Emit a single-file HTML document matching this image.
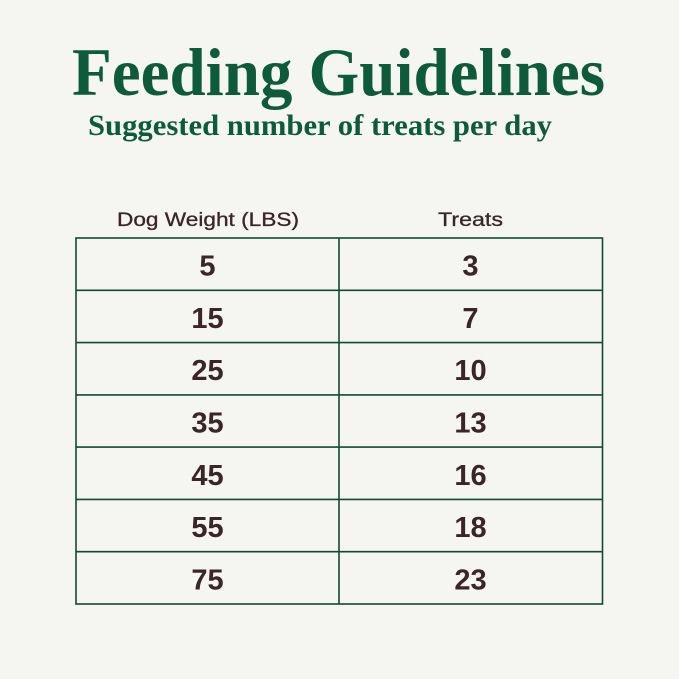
<!DOCTYPE html>
<html><head><meta charset="utf-8"><style>
html,body{margin:0;padding:0;background:#f5f5f1;}
svg{display:block;}
</style></head><body>
<svg width="679" height="679" viewBox="0 0 679 679" xmlns="http://www.w3.org/2000/svg">
<rect width="679" height="679" fill="#f5f5f1"/>
<text x="72" y="95" font-family="Liberation Serif, serif" font-weight="bold" font-size="68" fill="#0d5b3a" textLength="533" lengthAdjust="spacingAndGlyphs">Feeding Guidelines</text>
<text x="88" y="135" font-family="Liberation Serif, serif" font-weight="bold" font-size="30" fill="#0d5b3a" textLength="464" lengthAdjust="spacingAndGlyphs">Suggested number of treats per day</text>
<g font-family="Liberation Sans, sans-serif" font-size="19.5" fill="#3a2527" text-anchor="middle" stroke="#3a2527" stroke-width="0.3">
<text x="208" y="226" textLength="182" lengthAdjust="spacingAndGlyphs">Dog Weight (LBS)</text>
<text x="470.5" y="226" textLength="65" lengthAdjust="spacingAndGlyphs">Treats</text>
</g>
<g stroke="#124a35" stroke-width="1.6" fill="none">
<rect x="76" y="238" width="526.5" height="366"/>
<line x1="339" y1="238" x2="339" y2="604"/>
<line x1="76" y1="290.3" x2="602.5" y2="290.3"/>
<line x1="76" y1="342.6" x2="602.5" y2="342.6"/>
<line x1="76" y1="394.9" x2="602.5" y2="394.9"/>
<line x1="76" y1="447.1" x2="602.5" y2="447.1"/>
<line x1="76" y1="499.4" x2="602.5" y2="499.4"/>
<line x1="76" y1="551.7" x2="602.5" y2="551.7"/>
</g>
<g font-family="Liberation Sans, sans-serif" font-weight="bold" font-size="29" fill="#3a2527" text-anchor="middle">
<text x="207.5" y="275.5">5</text><text x="470.5" y="275.5">3</text>
<text x="207.5" y="328">15</text><text x="470.5" y="328">7</text>
<text x="207.5" y="380">25</text><text x="470.5" y="380">10</text>
<text x="207.5" y="432.5">35</text><text x="470.5" y="432.5">13</text>
<text x="207.5" y="485">45</text><text x="470.5" y="485">16</text>
<text x="207.5" y="537">55</text><text x="470.5" y="537">18</text>
<text x="207.5" y="589.5">75</text><text x="470.5" y="589.5">23</text>
</g>
</svg>
</body></html>
